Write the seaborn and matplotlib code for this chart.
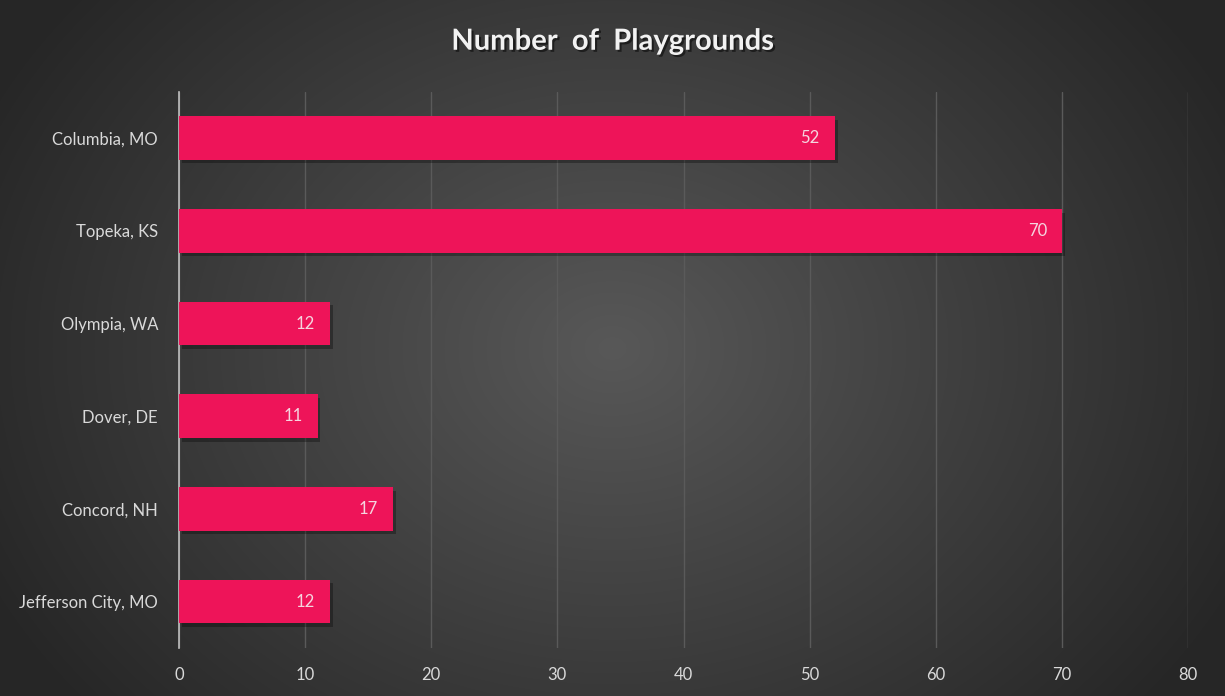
import numpy as np
import pandas as pd
import matplotlib
matplotlib.use("Agg")
import matplotlib.pyplot as plt
import matplotlib.patheffects as pe
import seaborn as sns

cities = ["Columbia, MO", "Topeka, KS", "Olympia, WA", "Dover, DE", "Concord, NH", "Jefferson City, MO"]
playgrounds = [52, 70, 12, 11, 17, 12]
xticks = [0, 10, 20, 30, 40, 50, 60, 70, 80]

df = pd.DataFrame({"city": cities, "count": playgrounds})

sns.set_theme(style="dark")
plt.rcParams["font.family"] = ["Lato", "DejaVu Sans"]

fig = plt.figure(figsize=(12.25, 6.96), dpi=100)

# radial gradient background
bg = fig.add_axes([0, 0, 1, 1], zorder=-10)
yy, xx = np.mgrid[0:696, 0:1225]
cx, cy = 612, 348
r = np.sqrt(((xx - cx) / 700.0) ** 2 + ((yy - cy) / 560.0) ** 2)
r = np.clip(r, 0, 1)
inner = np.array([0x58, 0x58, 0x58]) / 255.0
outer = np.array([0x26, 0x26, 0x26]) / 255.0
img = inner[None, None, :] * (1 - r[..., None]) + outer[None, None, :] * r[..., None]
bg.imshow(img, aspect="auto", extent=[0, 1, 0, 1])
bg.set_axis_off()

ax = fig.add_axes([0.146, 0.069, 0.824, 0.799])
ax.patch.set_alpha(0)

sns.barplot(data=df, y="city", x="count", orient="h", color="#EE1459",
            width=0.47, ax=ax, saturation=1, edgecolor="none")

for p in ax.patches:
    p.set_path_effects([pe.SimplePatchShadow(offset=(2, -2.5), shadow_rgbFace="black", alpha=0.3), pe.Normal()])
    p.set_zorder(3)

for p, v in zip(ax.patches, playgrounds):
    ax.text(p.get_width() - 1.2, p.get_y() + p.get_height() / 2, f"{v}",
            ha="right", va="center", color="#F5D5DF", fontsize=12, zorder=4)

ax.set_xlim(0, 80)
ax.set_ylim(5.5, -0.5)
ax.set_xticks(xticks)
ax.set_xticklabels([str(t) for t in xticks])
ax.grid(axis="x", color="#5A5A5A", linewidth=1, zorder=0)
ax.grid(axis="y", visible=False)
ax.set_axisbelow(True)
for s in ["top", "right", "bottom"]:
    ax.spines[s].set_visible(False)
ax.spines["left"].set_color("#BFBFBF")
ax.spines["left"].set_linewidth(1.2)
ax.set_xlabel("")
ax.set_ylabel("")
ax.tick_params(axis="both", colors="#D9D9D9", labelsize=12, length=0)
ax.tick_params(axis="y", pad=15)
ax.tick_params(axis="x", pad=14)

fig.text(0.5, 0.94, "Number  of  Playgrounds", ha="center", va="center",
         fontsize=21, fontweight="bold", color="#F2F2F2",
         path_effects=[pe.withSimplePatchShadow(offset=(1.5, -1.5), shadow_rgbFace="black", alpha=0.5)])

fig.savefig("out.png", dpi=100)
